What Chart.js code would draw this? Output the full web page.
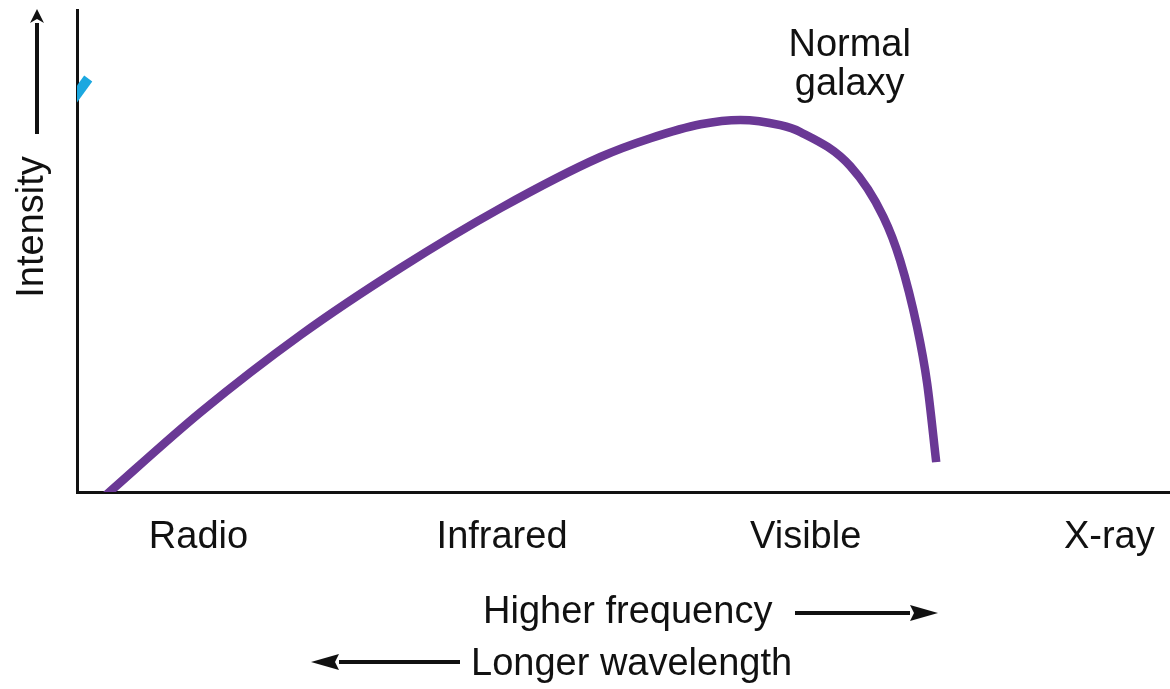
<!DOCTYPE html>
<html>
<head>
<meta charset="utf-8">
<script src="https://cdn.jsdelivr.net/npm/chart.js@4/dist/chart.umd.min.js"></script>
<style>
  html, body { margin: 0; padding: 0; background: #fff; }
  #wrap { width: 1170px; height: 689px; position: relative; }
</style>
</head>
<body>
<div id="wrap"><canvas id="chart"></canvas></div>
<script>
  // band positions along the x axis (1 = Radio ... 4 = X-ray)
  var bandLabels = ["Radio", "Infrared", "Visible", "X-ray"];
  var bandTicks = [1, 2, 3, 4];

  // normal galaxy spectrum
  var galaxyX = [0.68, 1.008, 1.337, 1.666, 1.995, 2.324, 2.489, 2.654, 2.785, 2.917, 2.982, 3.147, 3.256, 3.311, 3.367, 3.400, 3.430];
  var galaxyY = [-1.5, 16.6, 32.6, 46.5, 58.9, 69.5, 73.4, 76.3, 77.2, 76.1, 74.7, 67.6, 57.1, 48.1, 34.2, 22.6, 6.2];

  // small cyan stroke cut by the left axis
  var fragmentX = [0.577, 0.637];
  var fragmentY = [80.6, 85.8];

  var FONT = '38px "Liberation Sans", Helvetica, Arial, sans-serif';

  function pts(xs, ys) {
    return xs.map(function (x, i) {
      return { x: x, y: ys[i] };
    });
  }

  function arrow(ctx, x1, y1, x2, y2, head, half) {
    var ang = Math.atan2(y2 - y1, x2 - x1);
    var bx = x2 - Math.cos(ang) * head;
    var by = y2 - Math.sin(ang) * head;
    ctx.beginPath();
    ctx.moveTo(x1, y1);
    ctx.lineTo(bx, by);
    ctx.lineWidth = 4;
    ctx.stroke();
    ctx.beginPath();
    ctx.moveTo(x2, y2);
    ctx.lineTo(bx - Math.sin(ang) * half, by + Math.cos(ang) * half);
    ctx.lineTo(bx + Math.cos(ang) * 4, by + Math.sin(ang) * 4);
    ctx.lineTo(bx + Math.sin(ang) * half, by - Math.cos(ang) * half);
    ctx.closePath();
    ctx.fill();
  }

  var textPlugin = {
    id: "textos",
    afterDraw: function (chart) {
      var ctx = chart.ctx;
      var xs = chart.scales.x;
      var ys = chart.scales.y;
      var area = chart.chartArea;
      ctx.save();
      ctx.fillStyle = "#111";
      ctx.strokeStyle = "#111";
      ctx.font = FONT;
      ctx.textBaseline = "alphabetic";

      // band labels under the axis
      ctx.textAlign = "center";
      bandTicks.forEach(function (t, i) {
        ctx.fillText(bandLabels[i], xs.getPixelForValue(t), area.bottom + 56);
      });

      // curve label
      var lx = xs.getPixelForValue(3.145);
      ctx.fillText("Normal", lx, ys.getPixelForValue(90.4));
      ctx.fillText("galaxy", lx, ys.getPixelForValue(82.4));

      // direction notes
      ctx.textAlign = "left";
      ctx.fillText("Higher frequency", 483, 623);
      arrow(ctx, 795, 613, 938, 613, 28, 8);
      ctx.fillText("Longer wavelength", 471, 675);
      arrow(ctx, 460, 662, 311, 662, 28, 8);

      // y title
      ctx.save();
      ctx.translate(43, 227);
      ctx.rotate(-Math.PI / 2);
      ctx.textAlign = "center";
      ctx.fillText("Intensity", 0, 0);
      ctx.restore();
      arrow(ctx, 37, 134, 37, 9, 14, 7);

      ctx.restore();
    },
  };

  new Chart(document.getElementById("chart"), {
    type: "line",
    data: {
      datasets: [
        {
          label: "Normal galaxy",
          data: pts(galaxyX, galaxyY),
          borderColor: "#6a3895",
          borderWidth: 8.5,
          pointRadius: 0,
          cubicInterpolationMode: "monotone",
          fill: false,
          clip: 0,
        },
        {
          label: "fragment",
          data: pts(fragmentX, fragmentY),
          borderColor: "#1ba8e0",
          borderWidth: 10,
          pointRadius: 0,
          fill: false,
          clip: 0,
        },
      ],
    },
    options: {
      responsive: true,
      maintainAspectRatio: false,
      animation: false,
      devicePixelRatio: 1,
      layout: { padding: { left: 77, right: 0, top: 10, bottom: 197 } },
      plugins: {
        legend: { display: false },
        tooltip: { enabled: false },
      },
      scales: {
        x: {
          type: "linear",
          min: 0.6,
          max: 4.2,
          z: 1,
          grid: { display: false, drawTicks: false },
          ticks: { display: false },
          border: { display: true, width: 3, color: "#111" },
        },
        y: {
          min: 0,
          max: 100,
          z: 1,
          grid: { display: false, drawTicks: false },
          ticks: { display: false },
          border: { display: true, width: 3, color: "#111" },
        },
      },
    },
    plugins: [textPlugin],
  });
</script>
</body>
</html>
